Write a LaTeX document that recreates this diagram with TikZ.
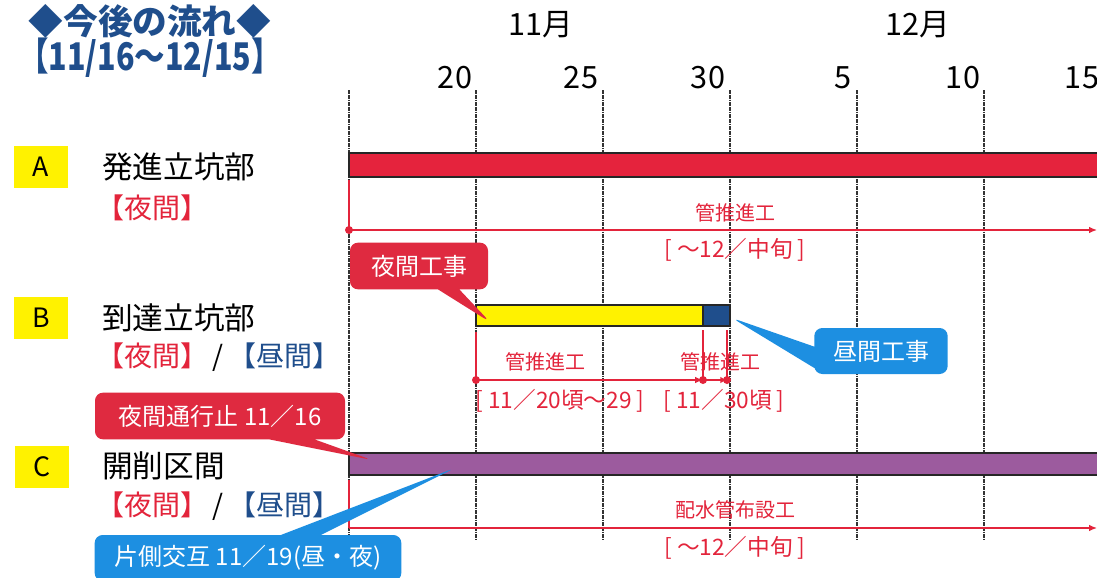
\documentclass[tikz,border=0pt]{standalone}
\usepackage{fontspec}
\setmainfont{Noto Sans CJK JP}
\usetikzlibrary{shapes.callouts,arrows.meta}
\definecolor{ared}{HTML}{E5233D}
\definecolor{cred}{HTML}{DF2A40}
\definecolor{cblue}{HTML}{1D8FE1}
\definecolor{dblue}{HTML}{1F4E8C}
\definecolor{cpurple}{HTML}{9C5B9E}
\definecolor{yel}{HTML}{FFF200}
\definecolor{tred}{HTML}{E3243B}
\begin{document}
\begin{tikzpicture}[x=0.75pt,y=-0.75pt,
  gridline/.style={line width=2pt, black!80, dash pattern=on 1.3pt off 0.5pt},
  barbox/.style={draw=black!85, line width=1.2pt},
  rline/.style={draw=tred, line width=1pt},
  rarrow/.style={rline, -{Latex[length=6pt,width=5pt]}},
  rdot/.style={fill=tred},
  callbox/.style={rectangle callout, rounded corners=6pt, text=white, font=\fontsize{18}{21}\selectfont, callout pointer width=16pt, inner sep=0pt},
  rowletter/.style={fill=yel, minimum width=40pt, minimum height=31pt, inner sep=0pt, font=\fontsize{20}{24}\selectfont},
  rowname/.style={anchor=west, inner sep=0pt, font=\fontsize{23}{27}\selectfont},
  rowsub/.style={anchor=west, inner sep=0pt, font=\fontsize{21}{25}\selectfont},
  redlab/.style={text=tred, inner sep=0pt, font=\fontsize{15}{18}\selectfont},
  brlab/.style={text=tred, inner sep=0pt, font=\fontsize{17}{20}\selectfont},
  daylab/.style={inner sep=0pt, font=\fontsize{23}{27}\selectfont},
  monlab/.style={inner sep=0pt, font=\fontsize{23}{27}\selectfont},
  title/.style={text=dblue, inner sep=0pt, font=\fontsize{26}{30}\bfseries\selectfont}
]
\useasboundingbox (0,0) rectangle (1097,578);
\fill[white] (0,0) rectangle (1097,578);

% title
\node[title] (t1) at (150,21) {◆今後の流れ◆};
\node[title, xscale=0.88, yscale=1.1] (t2) at (150,58) {【11/16～12/15】};

% months and days
\node[monlab] (m11) at (541,25) {11月};
\node[monlab] (m12) at (918,25) {12月};
\node[daylab] (d20) at (455,78) {20};
\node[daylab] (d25) at (581,78) {25};
\node[daylab] (d30) at (708,78) {30};
\node[daylab] (d5) at (843,78) {5};
\node[daylab] (d10) at (963,78) {10};
\node[daylab] (d15) at (1082,78) {15};

% grid
\foreach \x in {349,476,603,730,857,984}
  \draw[gridline] (\x,90) -- (\x,540);

% row labels
\node[rowletter] (LA) at (41,167) {A};
\node[rowname] (nA) at (102,167) {発進立坑部};
\node[rowsub, text=tred] (sA) at (96,208) {【夜間】};

\node[rowletter] (LB) at (41,318) {B};
\node[rowname] (nB) at (102,318) {到達立坑部};
\node[rowsub] (sB) at (96,357) {\textcolor{tred}{【夜間】}\,/\,\textcolor{dblue}{【昼間】}};

\node[rowletter] (LC) at (42,467) {C};
\node[rowname] (nC) at (102,466) {開削区間};
\node[rowsub] (sC) at (96,506) {\textcolor{tred}{【夜間】}\,/\,\textcolor{dblue}{【昼間】}};

% bars
\draw[barbox, fill=ared] (349,153) rectangle (1102,177);
\draw[barbox, fill=yel] (476,305) rectangle (703,326);
\draw[barbox, fill=dblue] (703,305) rectangle (730,326);
\draw[barbox, fill=cpurple] (349,453) rectangle (1102,475);

% row A timeline
\coordinate (aT) at (349,180);
\coordinate (aS) at (349,230);
\coordinate (aE) at (1097,230);
\draw[rline] (aT) -- (aS);
\draw[rarrow] (aS) -- (aE);
\fill[rdot] (aS) circle (3pt);
\node[redlab] (wA) at (735,213) {管推進工};
\node[brlab] (pA) at (735,250) {[ ～12／中旬 ]};

% row B timeline
\coordinate (b1T) at (476,332);
\coordinate (b1) at (476,380);
\coordinate (b2T) at (703,330);
\coordinate (b2) at (703,380);
\coordinate (b3T) at (727,330);
\coordinate (b3) at (727,380);
\draw[rline] (b1T) -- (b1);
\draw[rline] (b2T) -- (b2);
\draw[rline] (b3T) -- (b3);
\draw[rarrow] (b1) -- (b2);
\draw[rarrow, -{Latex[length=5pt,width=5pt]}] (b2) -- (b3);
\fill[rdot] (b1) circle (3pt);
\fill[rdot] (b2) circle (3pt);
\fill[rdot] (b3) circle (3pt);
\node[redlab] (wB1) at (545,362) {管推進工};
\node[redlab] (wB2) at (720,362) {管推進工};
\node[brlab] (pB1) at (560,401) {[ 11／20頃～29 ]};
\node[brlab] (pB2) at (724,401) {[ 11／30頃 ]};

% row C timeline
\coordinate (cT) at (349,480);
\coordinate (cS) at (349,528);
\coordinate (cE) at (1097,528);
\draw[rline] (cT) -- (cS);
\draw[rarrow] (cS) -- (cE);
\node[redlab] (wC) at (735,510) {配水管布設工};
\node[brlab] (pC) at (735,548) {[ ～12／中旬 ]};

% callouts
\node[callbox, fill=cred, minimum width=103.5pt, minimum height=35pt,
  callout absolute pointer={(490,322)}] (kNight) at (419,266) {夜間工事};
\node[callbox, fill=cblue, minimum width=100pt, minimum height=34.5pt,
  callout absolute pointer={(732,318)}] (kDay) at (881,351) {昼間工事};
\node[callbox, fill=cred, minimum width=187.5pt, minimum height=35pt, callout pointer width=34pt,
  callout absolute pointer={(372,460)}] (kStop) at (220,416) {夜間通行止 11／16};
\node[callbox, fill=cblue, minimum width=230pt, minimum height=34.5pt, callout pointer width=30pt,
  callout absolute pointer={(455,468)}] (kAlt) at (248,558) {片側交互 11／19(昼・夜)};
\end{tikzpicture}
\end{document}
